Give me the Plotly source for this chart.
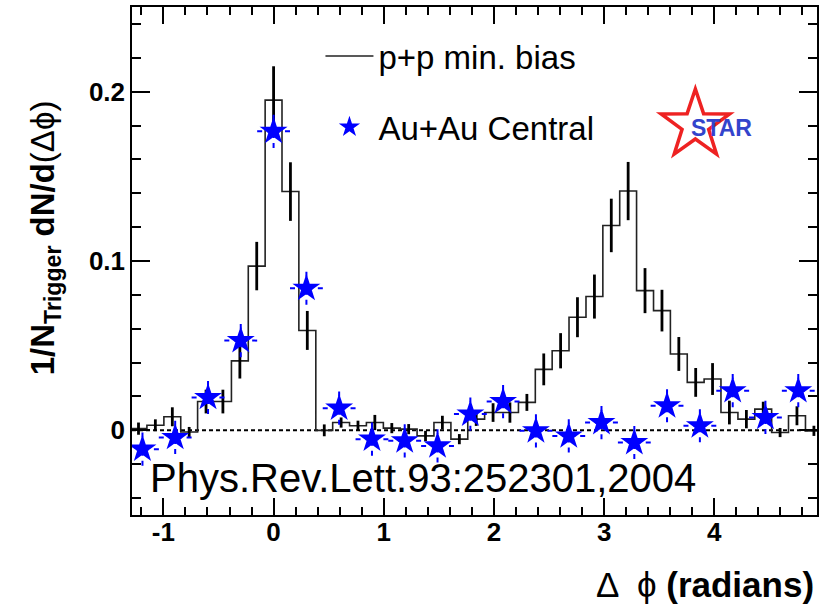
import math
import numpy as np
import plotly.graph_objects as go

# ---------------- data ----------------
# p+p min. bias histogram (bin centres, contents, statistical errors)
pp_centers = [-1.226, -1.073, -0.919, -0.766, -0.613, -0.460, -0.306, -0.153,
              0.000, 0.153, 0.306, 0.460, 0.613, 0.766, 0.919, 1.073, 1.226,
              1.379, 1.532, 1.686, 1.839, 1.992, 2.145, 2.299, 2.452, 2.605,
              2.758, 2.912, 3.065, 3.218, 3.371, 3.525, 3.678, 3.831, 3.984,
              4.137, 4.291, 4.444, 4.597, 4.750, 4.904]
pp_values = [0.001, 0.003, 0.008, -0.001, 0.017, 0.017, 0.041, 0.097,
             0.195, 0.141, 0.059, 0.000, 0.0046, 0.0027, 0.0046, 0.0013, 0.0007,
             -0.0033, 0.0046, -0.0052, 0.0066, 0.0105, 0.0105, 0.0165, 0.036, 0.047,
             0.0668, 0.079, 0.121, 0.1413, 0.0825, 0.0707, 0.0451, 0.0283, 0.0303,
             0.0105, 0.0066, 0.0125, -0.0013, 0.0086, -0.0003]
pp_errors = [0.0036, 0.0035, 0.0056, 0.003, 0.007, 0.007, 0.0104, 0.0143,
             0.020, 0.0173, 0.0115, 0.0035, 0.003, 0.003, 0.0045, 0.003, 0.003,
             0.003, 0.004, 0.003, 0.004, 0.0055, 0.006, 0.005, 0.0094, 0.0104,
             0.0118, 0.013, 0.0158, 0.0172, 0.0133, 0.0123, 0.010, 0.0085, 0.0094,
             0.007, 0.0054, 0.0044, 0.0027, 0.0056, 0.003]

# Au+Au central (points with errors)
auau_x = [-1.190, -0.893, -0.595, -0.298, 0.000, 0.298, 0.595, 0.893, 1.190,
          1.488, 1.786, 2.083, 2.381, 2.679, 2.976, 3.274, 3.571, 3.869,
          4.167, 4.464, 4.762]
auau_y = [-0.0111, -0.0042, 0.0194, 0.053, 0.1766, 0.0839, 0.0131, -0.0052,
          -0.0062, -0.0092, 0.0096, 0.017, -0.0003, -0.0033, 0.0046, -0.0072,
          0.0145, 0.0027, 0.0234, 0.0076, 0.0234]
auau_yerr = [0.0098] * len(auau_x)
auau_xhalf = [0.149] * len(auau_x)

x_tickvals = [-1, 0, 1, 2, 3, 4]
x_ticktext = ["-1", "0", "1", "2", "3", "4"]
y_tickvals = [0, 0.1, 0.2]
y_ticktext = ["0", "0.1", "0.2"]

FONT = "Liberation Sans, Arial, Helvetica, sans-serif"

fig = go.Figure()

# zero reference line
fig.add_hline(y=0, line=dict(color="black", width=2, dash="4px,3px"), layer="below")

# p+p step histogram
w = float(np.mean(np.diff(pp_centers)))
step_x = [c - w / 2 for c in pp_centers] + [pp_centers[-1] + w / 2]
step_y = list(pp_values) + [pp_values[-1]]
fig.add_trace(go.Scatter(
    x=step_x, y=step_y, mode="lines", line_shape="hv",
    line=dict(color="#222222", width=1.6),
    name="p+p min. bias", legend="legend", showlegend=True, hoverinfo="skip"))

# p+p error bars
fig.add_trace(go.Scatter(
    x=pp_centers, y=pp_values, mode="markers",
    marker=dict(size=1, opacity=0),
    error_y=dict(type="data", array=pp_errors, visible=True,
                 color="black", thickness=2.8, width=0),
    showlegend=False, hoverinfo="skip"))

# Au+Au dashed error bars (drawn from each end towards the point)
hx, hy, vx, vy = [], [], [], []
for xi, yi, ex, ey in zip(auau_x, auau_y, auau_xhalf, auau_yerr):
    hx += [xi - ex, xi, None, xi + ex, xi, None]
    hy += [yi, yi, None, yi, yi, None]
    vx += [xi, xi, None, xi, xi, None]
    vy += [yi + ey, yi, None, yi - ey, yi, None]
fig.add_trace(go.Scatter(x=hx, y=hy, mode="lines",
                         line=dict(color="#0000ff", width=2, dash="5px,5px"),
                         showlegend=False, hoverinfo="skip"))
fig.add_trace(go.Scatter(x=vx, y=vy, mode="lines",
                         line=dict(color="#0000ff", width=2, dash="5px,5px"),
                         showlegend=False, hoverinfo="skip"))

# Au+Au star markers
fig.add_trace(go.Scatter(
    x=auau_x, y=auau_y, mode="markers",
    marker=dict(symbol="star", size=21, color="#0000ff", line=dict(width=0)),
    name="Au+Au Central", legend="legend2", showlegend=True))

axis_common = dict(
    showline=True, linecolor="black", linewidth=1.5, mirror="allticks",
    ticks="inside", tickcolor="black", tickwidth=1.5,
    showgrid=False, zeroline=False,
    tickfont=dict(family=FONT, size=26, color="black", weight="bold"),
)

fig.update_xaxes(range=[-1.285, 4.932], tickvals=x_tickvals, ticktext=x_ticktext,
                 ticklen=17, ticklabelstandoff=-7,
                 minor=dict(ticks="inside", ticklen=8, dtick=0.2, tick0=0,
                            tickcolor="black", tickwidth=1.5, showgrid=False),
                 **axis_common)
fig.update_yaxes(range=[-0.05, 0.25], tickvals=y_tickvals, ticktext=y_ticktext,
                 ticklen=18,
                 minor=dict(ticks="inside", ticklen=9, dtick=0.02, tick0=0,
                            tickcolor="black", tickwidth=1.5, showgrid=False),
                 **axis_common)

W, H = 819, 606
ML, MR, MT, MB = 132, 0, 7, 91
PW, PH = W - ML - MR, H - MT - MB


def px(xp):
    return (xp - ML) / PW


def py(yp):
    return (H - MB - yp) / PH


legend_font = dict(family=FONT, size=33, color="black")
fig.update_layout(
    width=W, height=H,
    margin=dict(l=ML, r=MR, t=MT, b=MB),
    paper_bgcolor="white", plot_bgcolor="white",
    legend=dict(x=px(321), y=py(56), xanchor="left", yanchor="middle",
                bgcolor="rgba(0,0,0,0)", font=legend_font, itemwidth=48),
    legend2=dict(x=px(321), y=py(127), xanchor="left", yanchor="middle",
                 bgcolor="rgba(0,0,0,0)", font=legend_font, itemwidth=48),
)

# STAR logo: red open star + blue text
cxp, cyp = px(697), py(125)
R, r = 36, 14
pts = []
for i in range(10):
    ang = math.radians(90 + 36 * i)
    rad = R if i % 2 == 0 else r
    pts.append((rad * math.cos(ang), rad * math.sin(ang)))
path = "M " + " L ".join(f"{a:.2f},{b:.2f}" for a, b in pts) + " Z"
fig.add_shape(type="path", path=path, xref="paper", yref="paper",
              xsizemode="pixel", ysizemode="pixel", xanchor=cxp, yanchor=cyp,
              line=dict(color="#ee2222", width=3.5), fillcolor="rgba(0,0,0,0)")

fig.add_annotation(x=px(723), y=py(128), xref="paper", yref="paper",
                   text="<b>STAR</b>", showarrow=False,
                   font=dict(family=FONT, size=23, color="#3344cc"),
                   xanchor="center", yanchor="middle")

# reference text
fig.add_annotation(x=px(148), y=py(478), xref="paper", yref="paper",
                   text="Phys.Rev.Lett.93:252301,2004", showarrow=False,
                   font=dict(family=FONT, size=40, color="black"),
                   xanchor="left", yanchor="middle")

# axis titles
fig.add_annotation(x=px(818), y=py(584), xref="paper", yref="paper",
                   text="Δ  ϕ <b>(radians)</b>", showarrow=False,
                   font=dict(family=FONT, size=35, color="black"),
                   xanchor="right", yanchor="middle")
fig.add_annotation(x=px(45), y=py(238), xref="paper", yref="paper",
                   text="<b>1/N<sub>Trigger</sub> dN/d</b>(Δϕ)", showarrow=False,
                   textangle=-90,
                   font=dict(family=FONT, size=33, color="black"),
                   xanchor="center", yanchor="middle")

fig.write_html("out.html", post_script="document.body.style.margin='0';",
               config={"displayModeBar": False})
